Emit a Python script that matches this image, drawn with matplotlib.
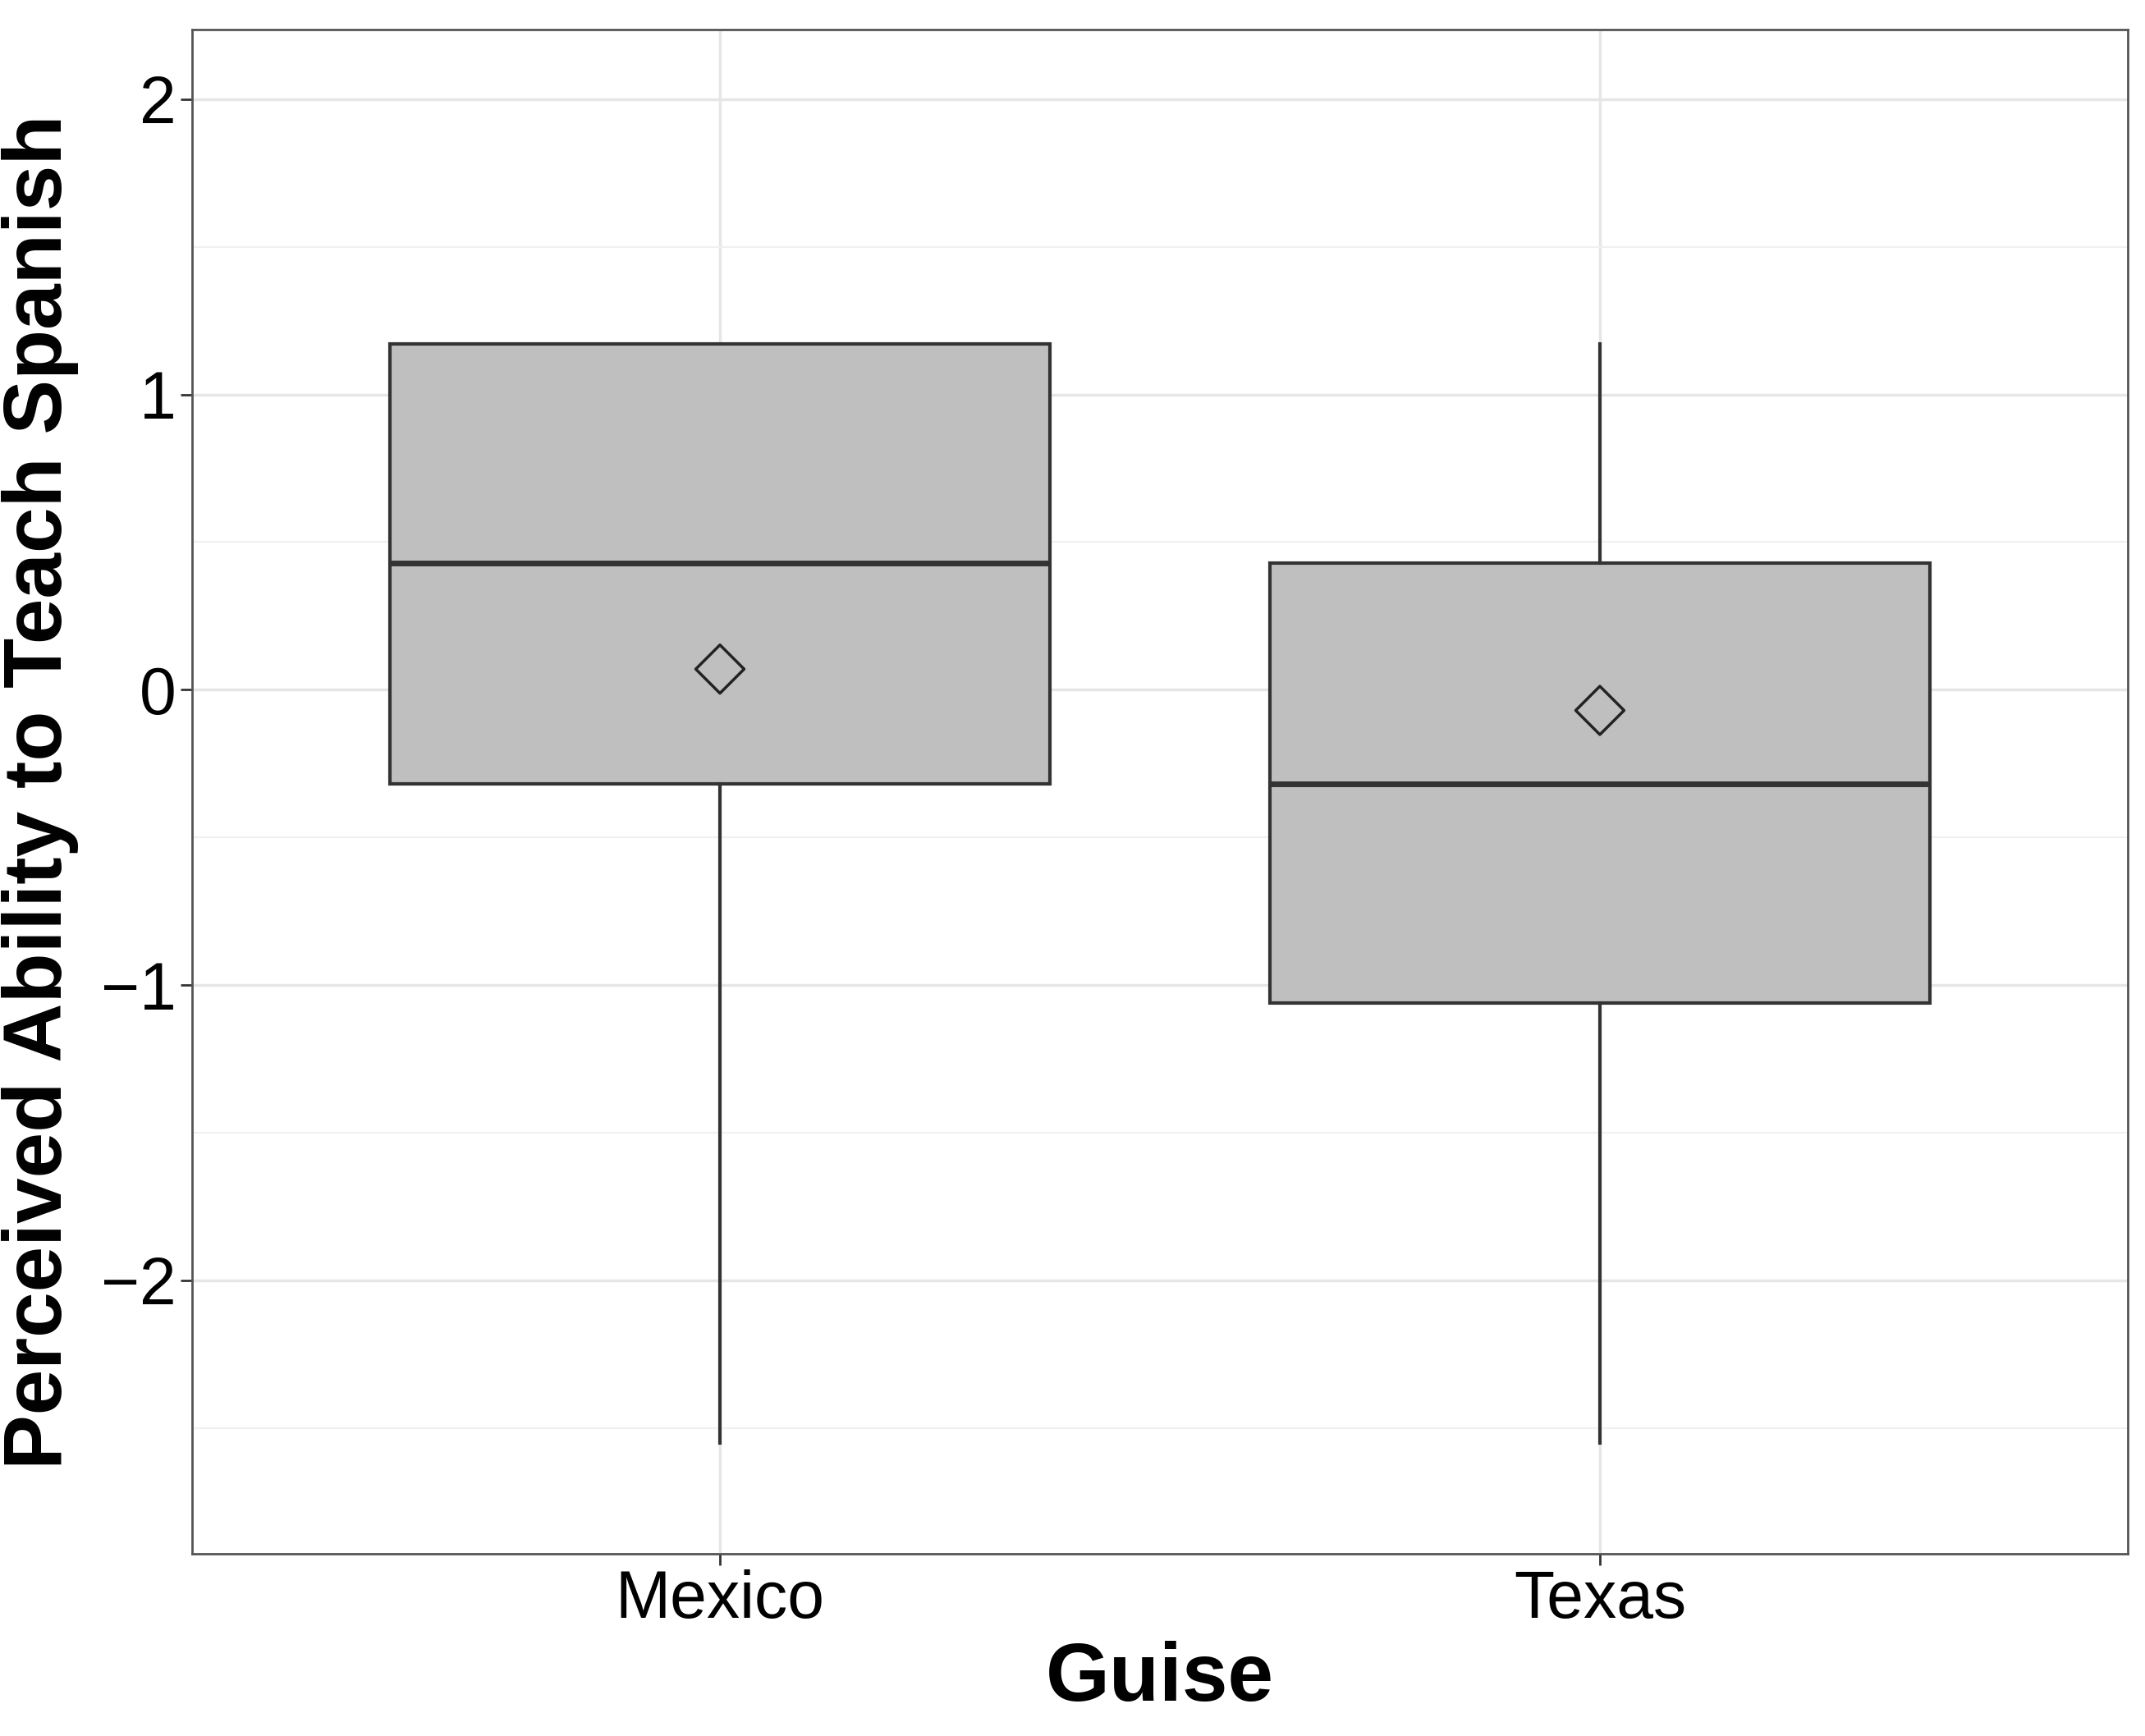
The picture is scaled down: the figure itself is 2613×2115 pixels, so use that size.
import matplotlib
matplotlib.use("Agg")
import matplotlib.pyplot as plt

plt.rcParams['font.family'] = ['Liberation Sans', 'DejaVu Sans']

categories = ["Mexico", "Texas"]
whislo = [-2.55, -2.55]
q1 = [-0.32, -1.06]
med = [0.43, -0.32]
q3 = [1.17, 0.43]
whishi = [1.17, 1.17]
means = [0.07, -0.07]
yticks = [-2, -1, 0, 1, 2]

fig = plt.figure(figsize=(26.13, 21.15), dpi=100)
ax = fig.add_axes([0.0895, 0.105, 0.9025, 0.878])

stats = [dict(label=c, whislo=a, q1=b, med=m, q3=d, whishi=e, fliers=[])
         for c, a, b, m, d, e in zip(categories, whislo, q1, med, q3, whishi)]
pos = list(range(1, len(categories) + 1))
ax.bxp(stats, positions=pos, widths=0.75, patch_artist=True, showcaps=False,
       boxprops=dict(facecolor='#bfbfbf', edgecolor='#333333', linewidth=3),
       medianprops=dict(color='#333333', linewidth=5),
       whiskerprops=dict(color='#333333', linewidth=3), zorder=3)
ax.scatter(pos, means, marker='D', s=900, facecolor='none', edgecolor='#222222',
           linewidth=2.5, zorder=4)

ax.set_xlim(0.4, 2.6)
ax.set_ylim(-2.926, 2.236)
ax.set_yticks(yticks)
ax.set_yticks([-2.5, -1.5, -0.5, 0.5, 1.5], minor=True)
ax.grid(True, which='major', color='#e6e6e6', linewidth=2.5, zorder=0)
ax.grid(True, which='minor', axis='y', color='#f0f0f0', linewidth=1.5, zorder=0)
ax.set_axisbelow(True)
for s in ax.spines.values():
    s.set_color('#555555'); s.set_linewidth(2)
ax.tick_params(axis='both', labelsize=58, colors='#333333', length=10, width=2, labelcolor='black')
ax.tick_params(which='minor', length=0)
ax.set_xticks(pos)
ax.set_xticklabels(categories)
ax.set_xlabel("Guise", fontsize=72, fontweight='bold', labelpad=8)
ax.set_ylabel("Perceived Ability to Teach Spanish", fontsize=72, fontweight='bold', labelpad=20)
fig.savefig("out.png", dpi=100)
